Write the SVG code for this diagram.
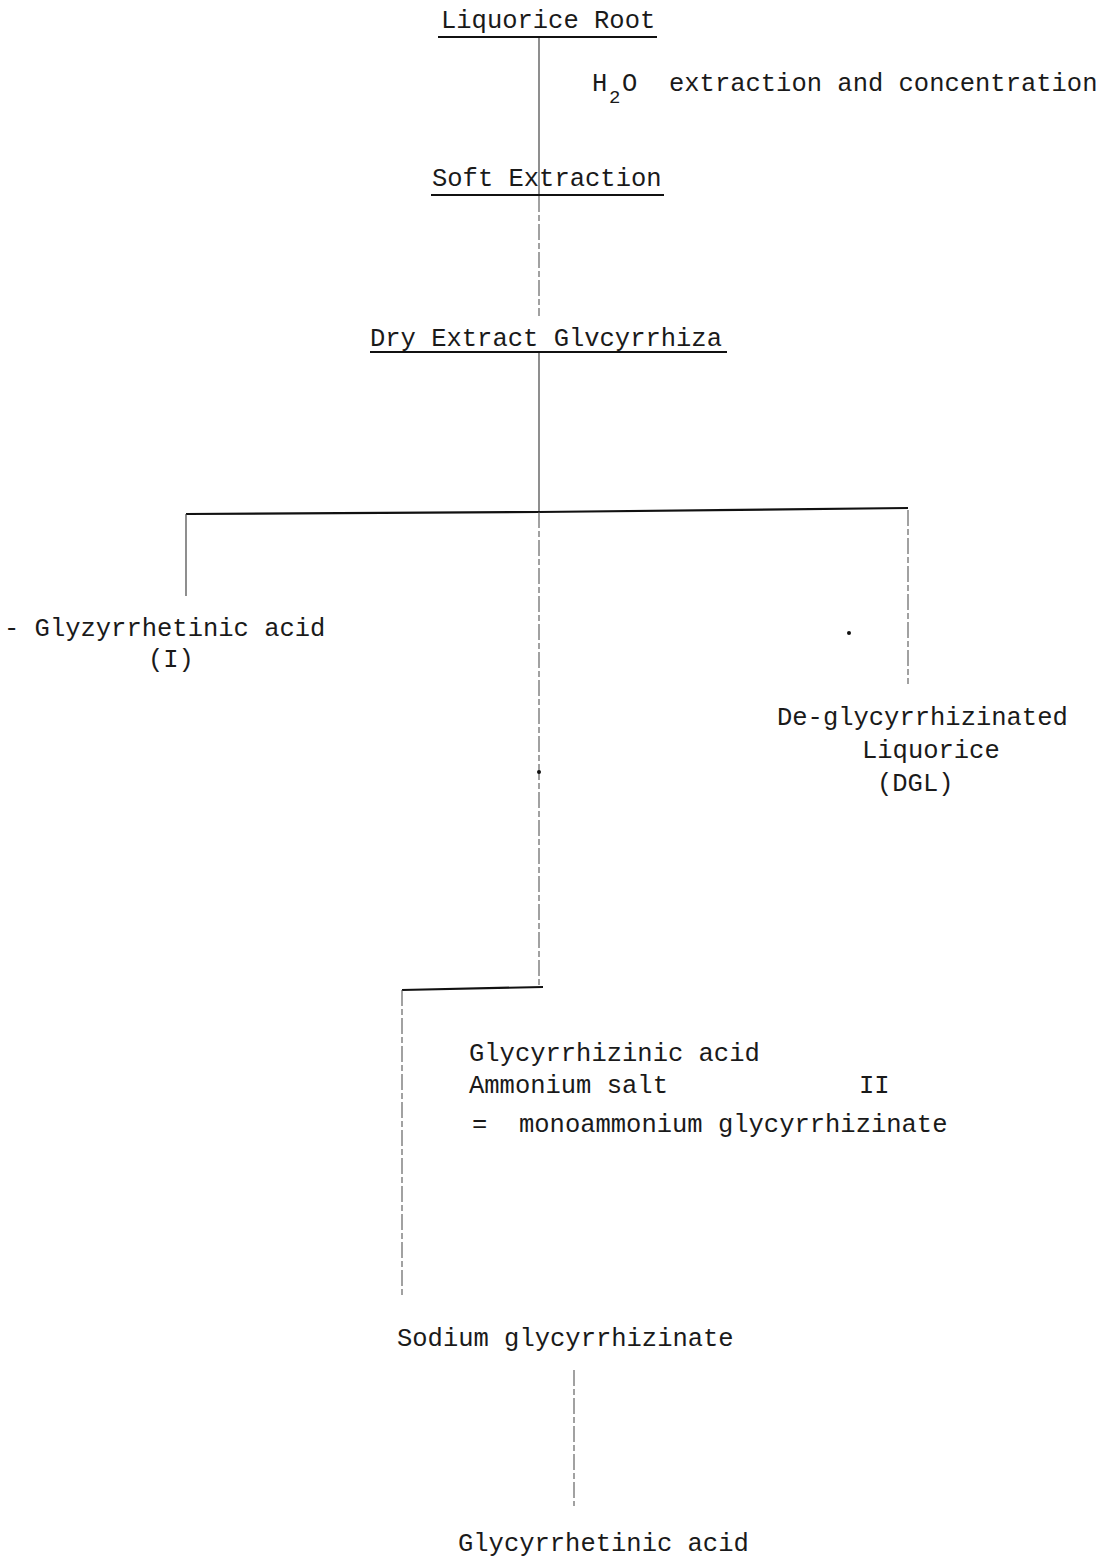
<svg xmlns="http://www.w3.org/2000/svg" width="1106" height="1557" viewBox="0 0 1106 1557">
<style>
text{font-family:"Liberation Mono","DejaVu Sans Mono",monospace;font-size:25.5px;fill:#1a1a1a}
.ul{stroke:#111;stroke-width:2.2;fill:none}
.ln{stroke:#444;stroke-width:1.2;fill:none}
.dl{stroke:#555;stroke-width:1.1;fill:none;stroke-dasharray:16 3 6 3}
.hv{stroke:#111;stroke-width:2.2;fill:none}
</style>
<rect width="1106" height="1557" fill="#fff"/>
<g id="connectors">
<line class="ln" x1="539" y1="37" x2="539" y2="195"/>
<line class="dl" x1="539" y1="196" x2="539" y2="316"/>
<line class="ln" x1="539" y1="353" x2="539" y2="512"/>
<polyline class="hv" points="186,514 539,512 908,508"/>
<line class="ln" x1="186" y1="514" x2="186" y2="596"/>
<line class="dl" x1="908" y1="510" x2="908" y2="684"/>
<line class="dl" x1="539" y1="512" x2="539" y2="988"/>
<polyline class="hv" points="402,990 543,987"/>
<line class="dl" x1="402" y1="990" x2="402" y2="1296"/>
<line class="dl" x1="574" y1="1370" x2="574" y2="1506"/>
<circle cx="849" cy="633" r="2" fill="#111"/>
<circle cx="539" cy="772" r="2" fill="#111"/>
</g>
<g id="liquorice-root">
<text x="441" y="28">Liquorice Root</text>
<line class="ul" x1="438" y1="37" x2="657" y2="37"/>
</g>
<g id="step-label">
<text x="592" y="91">H</text>
<text x="609" y="103" style="font-size:19px">2</text>
<text x="622" y="91">O</text>
<text x="669" y="91">extraction and concentration</text>
</g>
<g id="soft-extraction">
<text x="432" y="186">Soft Extraction</text>
<line class="ul" x1="431" y1="195" x2="664" y2="195"/>
</g>
<g id="dry-extract">
<text x="370" y="346">Dry Extract Glvcyrrhiza</text>
<line class="ul" x1="370" y1="352" x2="727" y2="352"/>
</g>
<g id="glyzyrrhetinic-acid">
<text x="4" y="636">- Glyzyrrhetinic acid</text>
<text x="148" y="667">(I)</text>
</g>
<g id="dgl">
<text x="777" y="725">De-glycyrrhizinated</text>
<text x="862" y="758">Liquorice</text>
<text x="877" y="791">(DGL)</text>
</g>
<g id="ammonium-salt">
<text x="469" y="1061">Glycyrrhizinic acid</text>
<text x="469" y="1093">Ammonium salt</text>
<text x="859" y="1093">II</text>
<text x="472" y="1132">=</text>
<text x="519" y="1132">monoammonium glycyrrhizinate</text>
</g>
<g id="sodium-glycyrrhizinate">
<text x="397" y="1346">Sodium glycyrrhizinate</text>
</g>
<g id="glycyrrhetinic-acid">
<text x="458" y="1551">Glycyrrhetinic acid</text>
</g>
</svg>
